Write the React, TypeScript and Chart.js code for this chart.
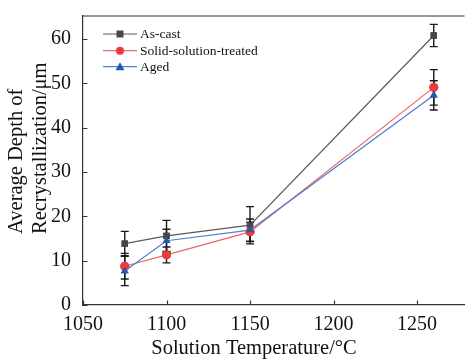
import React, { useEffect, useRef } from "react";
import { Chart, registerables } from "chart.js";

Chart.register(...registerables);

const temps = [1075, 1100, 1150, 1260];
const seriesNames = ["As-cast", "Solid-solution-treated", "Aged"];
const asCast = [13.85, 15.6, 18.0, 60.8];
const asCastErr = [2.75, 3.5, 4.2, 2.5];
const solid = [8.75, 11.3, 16.5, 49.1];
const solidErr = [2.9, 1.8, 2.2, 4.0];
const aged = [7.66, 14.5, 16.9, 47.3];
const agedErr = [3.3, 2.6, 2.5, 3.3];
const xTicks = [1050, 1100, 1150, 1200, 1250];
const yTicks = [0, 10, 20, 30, 40, 50, 60];
const xTitle = "Solution Temperature/°C";
const yTitleLines = ["Average Depth of", "Recrystallization/μm"];

const FONT = "'Liberation Serif', 'Times New Roman', serif";
const lineColors = ["#5a5a5a", "#f06464", "#4f7fd0"];
const markColors = ["#474747", "#ea3c3c", "#2457b8"];
const pointStyles = ["rect", "circle", "triangle"];
const errs = [asCastErr, solidErr, agedErr];

const errorBarPlugin = {
  id: "errbars",
  afterDatasetsDraw(chart: any) {
    const ctx = chart.ctx;
    const xs = chart.scales.x;
    const ys = chart.scales.y;
    ctx.save();
    ctx.strokeStyle = "#1a1a1a";
    ctx.lineWidth = 1.4;
    chart.data.datasets.forEach((ds: any, i: number) => {
      ds.data.forEach((p: any, j: number) => {
        const e = errs[i][j];
        const x = xs.getPixelForValue(p.x);
        const y1 = ys.getPixelForValue(p.y + e);
        const y2 = ys.getPixelForValue(p.y - e);
        ctx.beginPath();
        ctx.moveTo(x, y1);
        ctx.lineTo(x, y2);
        ctx.moveTo(x - 4, y1);
        ctx.lineTo(x + 4, y1);
        ctx.moveTo(x - 4, y2);
        ctx.lineTo(x + 4, y2);
        ctx.stroke();
      });
    });
    chart.data.datasets.forEach((ds: any, i: number) => {
      const meta = chart.getDatasetMeta(i);
      meta.data.forEach((pt: any) => pt.draw(ctx, chart.chartArea));
    });
    ctx.restore();
  },
};

const framePlugin = {
  id: "frame",
  afterDraw(chart: any) {
    const ctx = chart.ctx;
    const a = chart.chartArea;
    const xs = chart.scales.x;
    const ys = chart.scales.y;
    ctx.save();
    ctx.strokeStyle = "#333";
    ctx.lineWidth = 1.2;
    ctx.beginPath();
    ctx.moveTo(a.left, a.top);
    ctx.lineTo(a.right, a.top);
    xTicks.forEach((v) => {
      const x = Math.round(xs.getPixelForValue(v)) + 0.5;
      ctx.moveTo(x, a.bottom);
      ctx.lineTo(x, a.bottom - 4.5);
    });
    yTicks.forEach((v) => {
      const y = Math.round(ys.getPixelForValue(v)) + 0.5;
      ctx.moveTo(a.left, y);
      ctx.lineTo(a.left + 4.5, y);
    });
    ctx.stroke();

    ctx.fillStyle = "#111";
    ctx.font = `20.5px ${FONT}`;
    ctx.textAlign = "center";
    ctx.textBaseline = "alphabetic";
    ctx.fillText(xTitle, 254, 354);
    ctx.save();
    ctx.translate(22, 234);
    ctx.rotate(-Math.PI / 2);
    ctx.textAlign = "left";
    ctx.fillText(yTitleLines[0], 0, 0);
    ctx.fillText(yTitleLines[1], 0, 24);
    ctx.restore();

    ctx.font = `13.5px ${FONT}`;
    ctx.textAlign = "left";
    ctx.textBaseline = "middle";
    const rows = [34, 50.7, 66.7];
    seriesNames.forEach((name, i) => {
      const y = rows[i];
      ctx.strokeStyle = lineColors[i];
      ctx.lineWidth = 1.2;
      ctx.beginPath();
      ctx.moveTo(103, y);
      ctx.lineTo(137, y);
      ctx.stroke();
      ctx.fillStyle = markColors[i];
      ctx.beginPath();
      if (i === 0) {
        ctx.rect(116.5, y - 3.5, 7, 7);
      } else if (i === 1) {
        ctx.arc(120, y, 4, 0, Math.PI * 2);
      } else {
        ctx.moveTo(120, y - 4.5);
        ctx.lineTo(124.5, y + 3.5);
        ctx.lineTo(115.5, y + 3.5);
        ctx.closePath();
      }
      ctx.fill();
      ctx.fillStyle = "#111";
      ctx.fillText(name, 140, y + 0.5);
    });
    ctx.restore();
  },
};

export default function App() {
  const ref = useRef<HTMLCanvasElement>(null);
  useEffect(() => {
    if (!ref.current) return;
    const mk = (vals: number[]) => temps.map((t, j) => ({ x: t, y: vals[j] }));
    const chart = new Chart(ref.current, {
      type: "line",
      data: {
        datasets: [asCast, solid, aged].map((vals, i) => ({
          label: seriesNames[i],
          data: mk(vals),
          borderColor: lineColors[i],
          backgroundColor: markColors[i],
          pointBackgroundColor: markColors[i],
          pointBorderColor: markColors[i],
          pointStyle: pointStyles[i],
          pointRadius: 4.5,
          borderWidth: 1.2,
          pointBorderWidth: 0,
          order: 3 - i,
        })),
      },
      options: {
        responsive: false,
        animation: false,
        layout: { padding: { top: 7, right: 0, left: 0, bottom: 0 } },
        plugins: { legend: { display: false }, tooltip: { enabled: false } },
        scales: {
          x: {
            type: "linear",
            min: 1050,
            max: 1278.4,
            grid: { display: false },
            border: { display: true, color: "#333", width: 1.2 },
            ticks: {
              stepSize: 50,
              autoSkip: false,
              maxRotation: 0,
              padding: 0,
              color: "#111",
              font: { family: FONT, size: 20 },
              callback: (v: any) => String(v),
            },
            afterBuildTicks: (axis: any) => {
              axis.ticks = xTicks.map((v) => ({ value: v }));
            },
            afterFit: (axis: any) => {
              axis.height = 58;
            },
          },
          y: {
            type: "linear",
            min: 0,
            max: 65.2,
            grid: { display: false },
            border: { display: true, color: "#333", width: 1.2 },
            ticks: {
              stepSize: 10,
              padding: 4,
              color: "#111",
              font: { family: FONT, size: 20 },
              callback: (v: any) => String(v),
            },
            afterBuildTicks: (axis: any) => {
              axis.ticks = yTicks.map((v) => ({ value: v }));
            },
            afterFit: (axis: any) => {
              axis.width = 83;
            },
          },
        },
      },
      plugins: [errorBarPlugin, framePlugin],
    } as any);
    return () => chart.destroy();
  }, []);
  return (
    <canvas
      ref={ref}
      width={469}
      height={363}
      style={{ position: "fixed", left: 0, top: 0, width: 469, height: 363 }}
    />
  );
}
